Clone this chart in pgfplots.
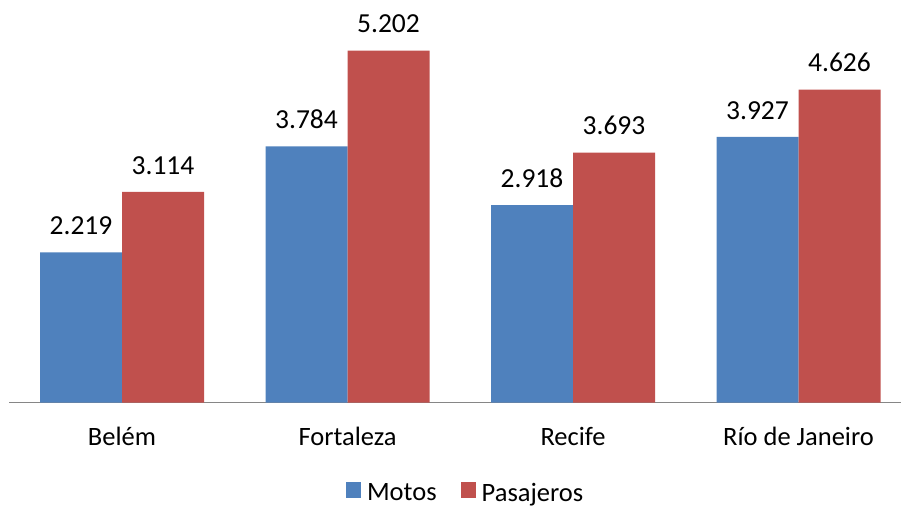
\documentclass[border=0pt]{standalone}
\usepackage{fontspec}
\setmainfont{Carlito}
\usepackage{pgfplots}
\pgfplotsset{compat=1.18}
\definecolor{mblue}{HTML}{4F81BD}
\definecolor{mred}{HTML}{C0504D}
\definecolor{axgray}{HTML}{868686}
\pgfplotsset{sqlegend/.style={legend image code/.code={\fill[##1,draw=none] (0pt,-5.5pt) rectangle (15pt,10.5pt);}}}
\begin{document}
\begin{tikzpicture}[font=\fontsize{26.5}{31}\selectfont]
\begin{axis}[
  scale only axis, width=902pt, height=402.5pt,
  xmin=-0.5, xmax=3.5, ymin=0, ymax=5.949,
  ybar=0pt, bar width=82pt,
  axis x line*=bottom, axis y line=none,
  x axis line style={draw=axgray, line width=1.5pt},
  xtick={0,1,2,3}, xticklabels={Belém,Fortaleza,Recife,Río de Janeiro},
  major tick length=0pt,
  xticklabel style={anchor=base, yshift=-43pt, inner sep=0pt},
  nodes near coords={\pgfmathprintnumber[fixed,fixed zerofill,precision=3,assume math mode=true]{\pgfplotspointmeta}},
  every node near coord/.append style={anchor=base, inner sep=0pt, yshift=17.7pt, text=black, font=\fontsize{27.5}{32}\selectfont},
  legend columns=2,
  legend style={at={(0.5082,-0.2235)}, anchor=center, draw=none, fill=none, inner sep=0pt,
    nodes={inner xsep=6pt, inner ysep=0pt}, /tikz/every even column/.append style={column sep=18pt}},
  clip=false,
]
\addplot[fill=mblue, draw=none, sqlegend] coordinates {(0,2.219) (1,3.784) (2,2.918) (3,3.927)};
\addplot[fill=mred, draw=none, sqlegend] coordinates {(0,3.114) (1,5.202) (2,3.693) (3,4.626)};
\legend{Motos,Pasajeros}
\end{axis}
\pgfresetboundingbox
\path (-9.25pt,-103.5pt) rectangle (891.75pt,402.5pt);
\end{tikzpicture}
\end{document}
